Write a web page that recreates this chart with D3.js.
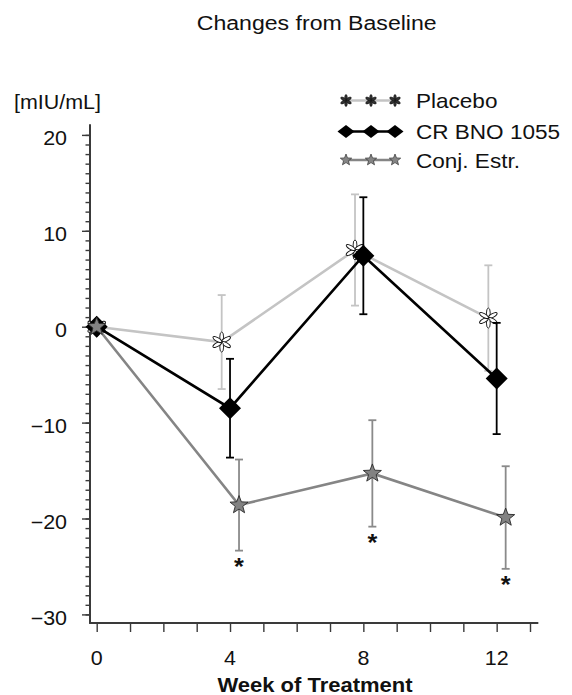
<!DOCTYPE html>
<html>
<head>
<meta charset="utf-8">
<script src="https://cdn.jsdelivr.net/npm/d3@7"></script>
<style>
  html, body { margin: 0; padding: 0; background: #fff; }
  svg { display: block; font-family: "Liberation Sans", Arial, sans-serif; }
</style>
</head>
<body>
<svg id="chart" width="572" height="695"></svg>
<script>
// Week of treatment at which each visit was measured
const weeks = [0, 4, 8, 12];

// Mean change from baseline (mIU/mL) and standard error for each group
const placeboMean = [0, -1.6, 8.0, 0.9];
const placeboErr  = [0, 4.9, 5.8, 5.5];
const crMean      = [0, -8.5, 7.4, -5.4];
const crErr       = [0, 5.15, 6.1, 5.8];
const conjMean    = [0, -18.6, -15.3, -19.9];
const conjErr     = [0, 4.75, 5.55, 5.35];

// Visits where the conjugated estrogen group differs significantly
const conjSignificant = [false, true, true, true];

// Axis ticks
const yMajorTicks = [-30, -20, -10, 0, 10, 20];
const yMinorTicks = d3.range(-30, 21, 1);
const xTicks = d3.range(0, 14, 1);
const xLabelTicks = [0, 4, 8, 12];

const seriesNames = ["Placebo", "CR BNO 1055", "Conj. Estr."];

const svg = d3.select("#chart");
const STRETCH = 1.1;

const x = d3.scaleLinear().domain([0, 13]).range([96.7, 530]);
const y = d3.scaleLinear().domain([-30, 20]).range([614.4, 134.9]);

// Text with the slightly wide letterforms used throughout the figure
function label(g, tx, ty, str, opts = {}) {
  return g.append("text")
    .attr("transform", `translate(${tx},${ty}) scale(${STRETCH},1)`)
    .attr("text-anchor", opts.anchor || "start")
    .attr("font-size", opts.size || 20)
    .attr("font-weight", opts.weight || "normal")
    .attr("fill", "#111")
    .text(str);
}

// Title
label(svg, 316.7, 30, "Changes from Baseline", { anchor: "middle", size: 21 });

// Unit label
label(svg, 14, 109, "[mIU/mL]", { size: 19.5 });

// ---- Axes ----
const axisColor = "#3a3a3a";
const yAxisX = 90, xAxisY = 623;

const yMinor = svg.append("g").attr("transform", `translate(${yAxisX},0)`)
  .call(d3.axisLeft(y).tickValues(yMinorTicks).tickSize(4.5).tickFormat(""));
const yMajor = svg.append("g").attr("transform", `translate(${yAxisX},0)`)
  .call(d3.axisLeft(y).tickValues(yMajorTicks).tickSize(8).tickFormat(""));
const xAx = svg.append("g").attr("transform", `translate(0,${xAxisY})`)
  .call(d3.axisBottom(x).tickValues(xTicks).tickSize(9).tickFormat(""));

[yMinor, yMajor, xAx].forEach(g => {
  g.select(".domain").remove();
  g.selectAll(".tick line").attr("stroke", axisColor).attr("stroke-width", 1.4);
});

svg.append("line")
  .attr("x1", yAxisX).attr("x2", yAxisX)
  .attr("y1", y(21.1)).attr("y2", xAxisY + 0.8)
  .attr("stroke", axisColor).attr("stroke-width", 2);
svg.append("line")
  .attr("x1", yAxisX - 0.8).attr("x2", x(13.25))
  .attr("y1", xAxisY).attr("y2", xAxisY)
  .attr("stroke", axisColor).attr("stroke-width", 2);

// Tick labels
yMajorTicks.forEach(v => {
  const s = v < 0 ? "\u2212" + Math.abs(v) : String(v);
  label(svg, 67, y(v) + 10.5, s, { anchor: "end", size: 19.5 });
});
xLabelTicks.forEach(w => {
  label(svg, x(w), 665, String(w), { anchor: "middle", size: 19.5 });
});

// Axis title
label(svg, 315, 692, "Week of Treatment", { anchor: "middle", size: 20, weight: "bold" });

// ---- Marker shapes ----
function starPath(R, r) {
  const pts = [];
  for (let i = 0; i < 10; i++) {
    const a = -Math.PI / 2 + i * Math.PI / 5;
    const rad = i % 2 === 0 ? R : r;
    pts.push([rad * Math.cos(a), rad * Math.sin(a)]);
  }
  return "M" + pts.map(p => p[0].toFixed(2) + "," + p[1].toFixed(2)).join("L") + "Z";
}
function diamondPath(hw, hh) {
  return `M0,${-hh}L${hw},0L0,${hh}L${-hw},0Z`;
}
function drawAsterisk(g, cx, cy, len, wid, sw) {
  const a = g.append("g").attr("transform", `translate(${cx},${cy})`);
  for (let k = 0; k < 6; k++) {
    a.append("ellipse")
      .attr("transform", `rotate(${k * 60}) translate(0,${-len / 2})`)
      .attr("rx", wid).attr("ry", len / 2)
      .attr("fill", "#fff").attr("stroke", "#111").attr("stroke-width", sw);
  }
}

// ---- Series ----
const series = [
  { name: seriesNames[0], mean: placeboMean, err: placeboErr, dodge: -0.25,
    line: "#c4c4c4", bar: "#c4c4c4", marker: "asterisk" },
  { name: seriesNames[1], mean: crMean, err: crErr, dodge: 0,
    line: "#000", bar: "#000", marker: "diamond" },
  { name: seriesNames[2], mean: conjMean, err: conjErr, dodge: 0.27,
    line: "#858585", bar: "#8a8a8a", marker: "star" }
];

const plot = svg.append("g");
const lineGen = d3.line().x(d => x(d.w)).y(d => y(d.v));

series.forEach(s => {
  const pts = weeks.map((w, i) => ({
    w: w === 0 ? w : w + s.dodge, v: s.mean[i], e: s.err[i]
  }));
  const g = plot.append("g");

  // error bars
  pts.filter(p => p.e > 0).forEach(p => {
    const px = x(p.w);
    g.append("line").attr("x1", px).attr("x2", px)
      .attr("y1", y(p.v + p.e)).attr("y2", y(p.v - p.e))
      .attr("stroke", s.bar).attr("stroke-width", 1.8);
    [p.v + p.e, p.v - p.e].forEach(v => {
      g.append("line").attr("x1", px - 4).attr("x2", px + 4)
        .attr("y1", y(v)).attr("y2", y(v))
        .attr("stroke", s.bar).attr("stroke-width", 1.8);
    });
  });

  // connecting line
  g.append("path").datum(pts).attr("d", lineGen)
    .attr("fill", "none").attr("stroke", s.line).attr("stroke-width", 2.6)
    .attr("stroke-linejoin", "miter");

  // markers
  pts.forEach(p => {
    const px = x(p.w), py = y(p.v);
    if (s.marker === "diamond") {
      g.append("path").attr("d", diamondPath(11, 11))
        .attr("transform", `translate(${px},${py})`).attr("fill", "#000");
    } else if (s.marker === "star") {
      g.append("path").attr("d", starPath(9.5, 4))
        .attr("transform", `translate(${px},${py})`)
        .attr("fill", "#828282").attr("stroke", "#2a2a2a").attr("stroke-width", 0.9);
    } else {
      drawAsterisk(g, px, py, 10, 1.9, 0.9);
    }
  });

  if (s.marker === "star") {
    pts.forEach((p, i) => {
      if (conjSignificant[i]) {
        label(g, x(p.w), y(p.v - p.e) + 24, "*", { anchor: "middle", size: 23, weight: "bold" });
      }
    });
  }
});

// ---- Legend ----
const legend = svg.append("g");
const legendRows = [108, 139, 167.5];
const legendSymX = [346, 371, 395];
series.forEach((s, i) => {
  const cy = legendRows[i] - 7.5;
  legend.append("line")
    .attr("x1", legendSymX[0]).attr("x2", legendSymX[2])
    .attr("y1", cy).attr("y2", cy)
    .attr("stroke", s.line).attr("stroke-width", 2.6);
  legendSymX.forEach(lx => {
    if (s.marker === "diamond") {
      legend.append("path").attr("d", diamondPath(8.5, 6.5))
        .attr("transform", `translate(${lx},${cy})`).attr("fill", "#000");
    } else if (s.marker === "star") {
      legend.append("path").attr("d", starPath(6, 2.6))
        .attr("transform", `translate(${lx},${cy})`)
        .attr("fill", "#858585").attr("stroke", "#333").attr("stroke-width", 0.7);
    } else {
      const a = legend.append("g").attr("transform", `translate(${lx},${cy})`);
      for (let k = 0; k < 6; k++) {
        a.append("ellipse")
          .attr("transform", `rotate(${k * 60}) translate(0,-3)`)
          .attr("rx", 1.3).attr("ry", 3)
          .attr("fill", "#333").attr("stroke", "#111").attr("stroke-width", 0.6);
      }
    }
  });
  label(legend, 416, legendRows[i], s.name, { size: 20.5 });
});
</script>
</body>
</html>
